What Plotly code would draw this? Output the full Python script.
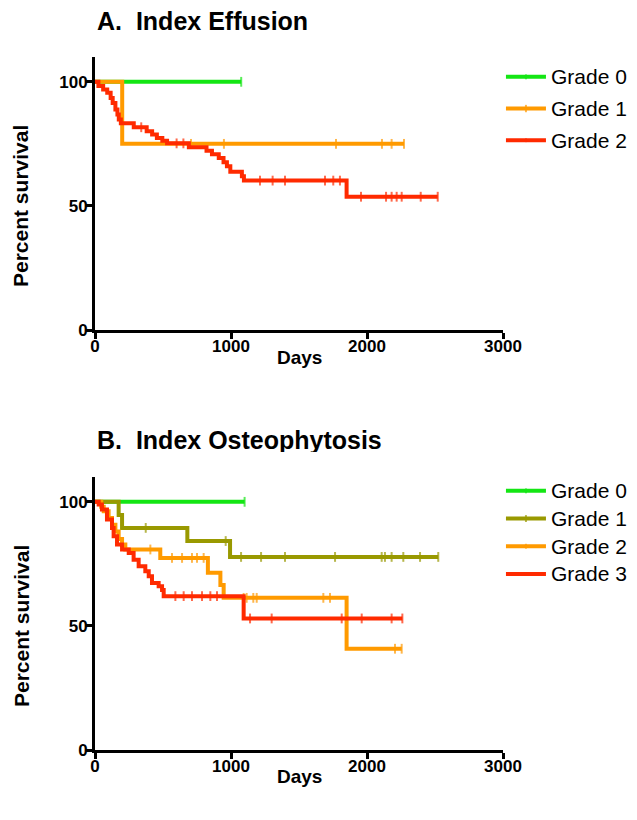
import plotly.graph_objects as go

# ---------------- Panel A: Index Effusion ----------------
a_names = ["Grade 0", "Grade 1", "Grade 2"]
a_colors = ["#14e614", "#ff9a00", "#ff2a00"]

a0_event_days = []
a0_event_surv = []
a0_censor_days = [1075]

a1_event_days = [200]
a1_event_surv = [75.0]
a1_censor_days = [706, 948, 1772, 2110, 2181, 2272]

a2_event_days = [25, 60, 90, 115, 130, 150, 165, 175, 190, 285, 380, 420, 455, 495, 530,
                 690, 820, 860, 910, 945, 970, 995, 1080, 1095, 1850]
a2_event_surv = [98.3, 96.9, 95.6, 93.5, 91.5, 88.8, 86.8, 84.8, 83.3, 81.7, 80.1, 78.8, 77.4, 76.3, 75.2,
                 73.6, 72.2, 70.8, 69.3, 67.6, 66.0, 63.8, 62.0, 60.2, 53.7]
a2_censor_days = [340, 600, 650, 1213, 1306, 1397, 1691, 1752, 1801, 1956, 2140, 2181, 2218, 2255, 2395, 2520]

# ---------------- Panel B: Index Osteophytosis ----------------
b_names = ["Grade 0", "Grade 1", "Grade 2", "Grade 3"]
b_colors = ["#14e614", "#999900", "#ff9a00", "#ff2a00"]

b0_event_days = []
b0_event_surv = []
b0_censor_days = [1100]

b1_event_days = [174, 199, 679, 993]
b1_event_surv = [94.7, 89.5, 84.2, 77.8]
b1_censor_days = [373, 961, 1074, 1221, 1397, 1765, 2108, 2132, 2181, 2267, 2390, 2524]

b2_event_days = [46, 64, 100, 125, 150, 174, 199, 223, 480, 830, 922, 946, 1850]
b2_event_surv = [98.0, 96.2, 93.5, 90.8, 88.0, 85.0, 82.8, 80.8, 77.4, 71.4, 66.5, 61.3, 40.8]
b2_censor_days = [407, 566, 640, 713, 750, 799, 1093, 1115, 1164, 1189, 1679, 1728, 2206, 2255]

b3_event_days = [27, 51, 88, 125, 137, 162, 199, 248, 284, 321, 370, 395, 419, 468, 493, 505, 1093]
b3_event_surv = [98.9, 96.9, 92.9, 89.5, 86.1, 82.8, 80.8, 79.4, 76.7, 74.0, 72.0, 70.0, 67.3, 66.0, 64.5, 62.0, 53.0]
b3_censor_days = [591, 652, 713, 787, 848, 897, 1140, 1299, 1814, 1961, 2181, 2260]

x_ticks = [0, 1000, 2000, 3000]
y_ticks = [0, 50, 100]


def km_points(event_days, event_surv, censor_days):
    items = [(t, 0, s) for t, s in zip(event_days, event_surv)] + [(t, 1, None) for t in censor_days]
    items.sort(key=lambda it: (it[0], it[1]))
    xs, ys, sizes = [0], [100.0], [0]
    cur = 100.0
    for t, kind, s in items:
        if kind == 0:
            cur = s
            xs.append(t); ys.append(cur); sizes.append(0)
        else:
            xs.append(t); ys.append(cur); sizes.append(7)
    return xs, ys, sizes


FONT = "Liberation Sans, Arial, sans-serif"
LEG_LABEL = '<span style="font-size:21px">%s</span>'
fig = go.Figure()

a_data = [(a0_event_days, a0_event_surv, a0_censor_days),
          (a1_event_days, a1_event_surv, a1_censor_days),
          (a2_event_days, a2_event_surv, a2_censor_days)]
b_data = [(b0_event_days, b0_event_surv, b0_censor_days),
          (b1_event_days, b1_event_surv, b1_censor_days),
          (b2_event_days, b2_event_surv, b2_censor_days),
          (b3_event_days, b3_event_surv, b3_censor_days)]

for i, (name, color, d) in enumerate(zip(a_names, a_colors, a_data)):
    xs, ys, sz = km_points(*d)
    fig.add_trace(go.Scatter(x=xs, y=ys, name=LEG_LABEL % name, mode="lines+markers",
                             line=dict(color=color, width=4, shape="hv"),
                             marker=dict(symbol="line-ns", size=sz, line=dict(color=color, width=2)),
                             xaxis="x", yaxis="y", legend="legend", legendgroup="a%d" % i))

for i, (name, color, d) in enumerate(zip(b_names, b_colors, b_data)):
    xs, ys, sz = km_points(*d)
    fig.add_trace(go.Scatter(x=xs, y=ys, name=LEG_LABEL % name, mode="lines+markers",
                             line=dict(color=color, width=4, shape="hv"),
                             marker=dict(symbol="line-ns", size=sz, line=dict(color=color, width=2)),
                             xaxis="x2", yaxis="y2", legend="legend2"))

tickfont = dict(family=FONT, size=17, color="black", weight="bold")
common = dict(showline=True, linecolor="black", linewidth=3, ticks="outside", ticklen=6, tickwidth=3,
              tickcolor="black", showgrid=False, zeroline=False, tickfont=tickfont, fixedrange=True)
xax = dict(range=[0, 3000], tickvals=x_ticks, ticklabelstandoff=-7, **common)
yax = dict(range=[0, 110], tickvals=y_ticks, ticklabelstandoff=-5, **common)

OFF = 8  # page body margin
H_TOP, H_BOT = 57 - OFF, 70 + OFF
plot_h = 820 - H_TOP - H_BOT


def py(screen_px):
    return (820 - H_BOT - (screen_px - OFF)) / plot_h


fig.update_layout(
    width=637, height=820,
    margin=dict(l=95 - OFF, r=134 + OFF, t=H_TOP, b=H_BOT, autoexpand=False),
    paper_bgcolor="white", plot_bgcolor="white",
    font=dict(family=FONT, color="black"),
    xaxis=dict(domain=[0, 1], anchor="y", **xax),
    yaxis=dict(domain=[py(330), 1], anchor="x", **yax),
    xaxis2=dict(domain=[0, 1], anchor="y2", **xax),
    yaxis2=dict(domain=[0, py(477)], anchor="x2", **yax),
    legend=dict(x=0.995, xanchor="left", y=py(58), yanchor="top", font=dict(size=19, family=FONT),
                tracegroupgap=4, itemwidth=40, bgcolor="rgba(0,0,0,0)"),
    legend2=dict(x=0.995, xanchor="left", y=py(472), yanchor="top", font=dict(size=19, family=FONT),
                 itemwidth=40, bgcolor="rgba(0,0,0,0)"),
    showlegend=True,
)

ann = [
    dict(text="<b>A.\u00a0 Index Effusion</b>", x=0, y=py(21), xanchor="left", yanchor="middle",
         height=24, font=dict(size=25)),
    dict(text="<b>B.\u00a0 Index Osteophytosis</b>", x=0, y=py(440), xanchor="left", yanchor="middle",
         height=24, font=dict(size=25)),
    dict(text="<b>Days</b>", x=0.5, y=py(357), xanchor="center", yanchor="middle", font=dict(size=19)),
    dict(text="<b>Days</b>", x=0.5, y=py(777), xanchor="center", yanchor="middle", font=dict(size=19)),
    dict(text="<b>Percent survival</b>", x=-74 / 408, y=py(206), xanchor="center", yanchor="middle",
         textangle=-90, font=dict(size=21)),
    dict(text="<b>Percent survival</b>", x=-74 / 408, y=py(626), xanchor="center", yanchor="middle",
         textangle=-90, font=dict(size=21)),
]
for a in ann:
    a.update(xref="paper", yref="paper", showarrow=False)
fig.update_layout(annotations=ann)

fig.write_html("out.html")
